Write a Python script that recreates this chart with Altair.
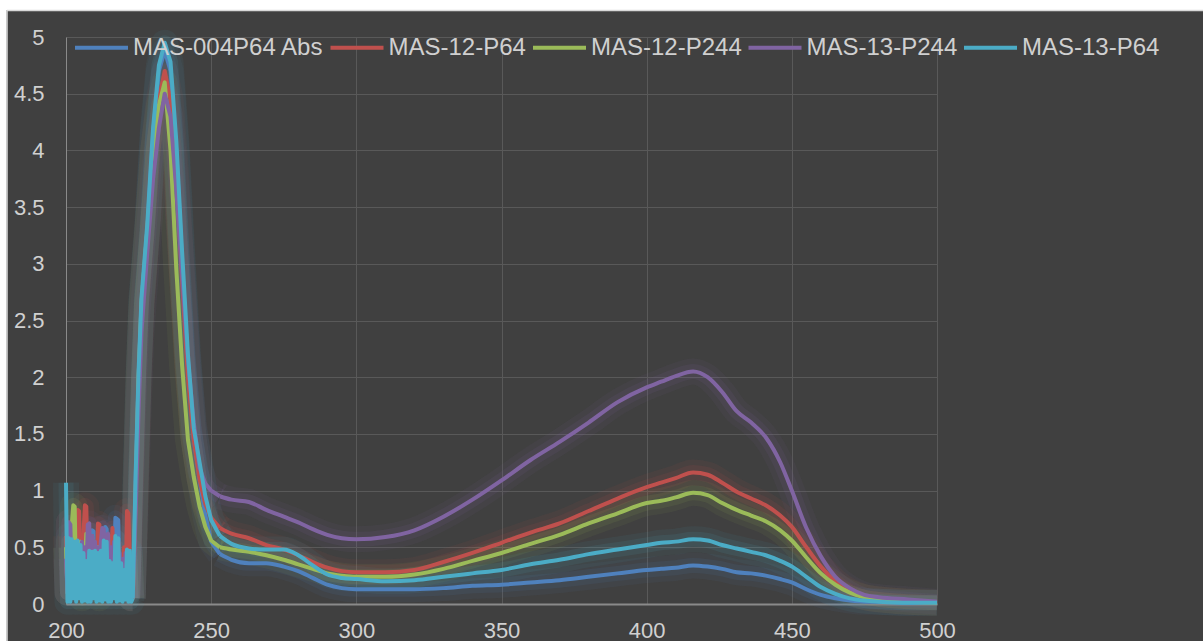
import altair as alt
import pandas as pd

# ---------------- data ----------------
series_names = ["MAS-004P64 Abs", "MAS-12-P64", "MAS-12-P244", "MAS-13-P244", "MAS-13-P64"]
series_colors = ["#4F81BD", "#C0504D", "#9BBB59", "#8064A2", "#4BACC6"]

x_ticks = [200, 250, 300, 350, 400, 450, 500]
y_ticks = [0, 0.5, 1, 1.5, 2, 2.5, 3, 3.5, 4, 4.5, 5]

# noisy (saturated) region 200 - 222.5 nm, 0.5 nm steps
noise_wl = [200.0 + 0.5 * i for i in range(46)]
noise_blue = [0.5, 0.1, 0.6, 0.1, 0.55, 0.1, 0.6, 0.15, 0.55, 0.1, 0.6, 0.1, 0.55, 0.1, 0.5, 0.1,
              0.6, 0.15, 0.65, 0.64, 0.1, 0.5, 0.1, 0.55, 0.1, 0.5, 0.1, 0.68, 0.66, 0.1, 0.5, 0.1,
              0.45, 0.1, 0.76, 0.75, 0.74, 0.2, 0.4, 0.1, 0.45, 0.1, 0.5, 0.1, 0.45, 0.05]
noise_red = [0.6, 0.1, 0.72, 0.1, 0.6, 0.15, 0.55, 0.1, 0.83, 0.82, 0.2, 0.1, 0.6, 0.87, 0.86, 0.2,
             0.55, 0.1, 0.6, 0.15, 0.55, 0.1, 0.71, 0.7, 0.2, 0.1, 0.55, 0.1, 0.5, 0.3, 0.6, 0.25,
             0.67, 0.1, 0.5, 0.1, 0.55, 0.1, 0.4, 0.15, 0.5, 0.1, 0.82, 0.8, 0.3, 0.05]
noise_green = [0.5, 0.1, 0.55, 0.1, 0.7, 0.87, 0.86, 0.1, 0.5, 0.1, 0.55, 0.05, 0.5, 0.3, 0.62, 0.1,
               0.45, 0.1, 0.5, 0.1, 0.45, 0.1, 0.5, 0.05, 0.5, 0.1, 0.45, 0.1, 0.5, 0.1, 0.45, 0.1,
               0.4, 0.1, 0.45, 0.1, 0.4, 0.25, 0.35, 0.1, 0.4, 0.1, 0.35, 0.1, 0.4, 0.05]
noise_purple = [0.4, 0.1, 0.72, 0.7, 0.2, 0.5, 0.1, 0.55, 0.1, 0.5, 0.15, 0.55, 0.1, 0.5, 0.2, 0.7,
                0.71, 0.2, 0.6, 0.1, 0.55, 0.1, 0.5, 0.15, 0.55, 0.67, 0.66, 0.2, 0.6, 0.62, 0.1, 0.5,
                0.1, 0.55, 0.1, 0.5, 0.15, 0.45, 0.1, 0.4, 0.1, 0.45, 0.1, 0.4, 0.1, 0.05]
noise_cyan = [1.07, 0.02, 0.58, 0.02, 0.57, 0.05, 0.55, 0.02, 0.56, 0.05, 0.52, 0.02, 0.45, 0.03, 0.38, 0.02,
              0.47, 0.02, 0.46, 0.05, 0.47, 0.02, 0.45, 0.03, 0.47, 0.02, 0.56, 0.04, 0.55, 0.02, 0.38, 0.02,
              0.36, 0.05, 0.6, 0.02, 0.58, 0.03, 0.36, 0.02, 0.3, 0.04, 0.48, 0.02, 0.47, 0.02]

# main band 223 - 500 nm
band_wl = [223, 224, 225, 226, 228, 230, 232, 234, 236, 238, 240, 242, 244, 246, 248, 250, 253, 257,
           263, 269, 275, 280, 285, 290, 295, 300, 310, 320, 330, 340, 350, 360, 370, 380, 390, 400,
           405, 410, 416, 421, 426, 431, 436, 441, 446, 450, 455, 460, 465, 470, 475, 480, 490, 500]
band_blue = [0.05, 1.1, 2.0, 2.65, 3.3, 4.15, 4.7, 4.88, 4.7, 4.0, 3.0, 2.1, 1.45, 1.1, 0.78, 0.55, 0.44, 0.39,
             0.36, 0.36, 0.33, 0.29, 0.23, 0.17, 0.14, 0.13, 0.13, 0.13, 0.14, 0.16, 0.17, 0.19, 0.21, 0.24, 0.27, 0.30,
             0.31, 0.32, 0.34, 0.33, 0.31, 0.28, 0.27, 0.25, 0.22, 0.19, 0.13, 0.08, 0.05, 0.03, 0.02, 0.02, 0.01, 0.01]
band_red = [0.05, 1.0, 1.95, 2.6, 3.3, 4.0, 4.45, 4.7, 4.45, 3.75, 2.85, 2.0, 1.45, 1.1, 0.88, 0.76, 0.67, 0.62,
            0.58, 0.52, 0.48, 0.43, 0.37, 0.32, 0.29, 0.28, 0.28, 0.30, 0.37, 0.45, 0.54, 0.63, 0.71, 0.82, 0.93, 1.03,
            1.07, 1.11, 1.16, 1.14, 1.07, 0.99, 0.93, 0.87, 0.78, 0.68, 0.50, 0.33, 0.20, 0.11, 0.06, 0.04, 0.02, 0.01]
band_green = [0.05, 1.0, 2.0, 2.65, 3.3, 4.0, 4.4, 4.6, 4.0, 2.95, 2.1, 1.45, 1.12, 0.86, 0.68, 0.56, 0.50, 0.48,
              0.46, 0.43, 0.39, 0.35, 0.31, 0.27, 0.25, 0.24, 0.24, 0.26, 0.31, 0.38, 0.45, 0.53, 0.61, 0.71, 0.80, 0.89,
              0.91, 0.94, 0.98, 0.96, 0.89, 0.83, 0.78, 0.73, 0.65, 0.56, 0.41, 0.27, 0.17, 0.10, 0.06, 0.04, 0.02, 0.01]
band_purple = [0.05, 0.8, 1.7, 2.4, 3.1, 3.75, 4.2, 4.5, 4.3, 3.65, 2.9, 2.15, 1.6, 1.2, 1.06, 1.0, 0.95, 0.92,
               0.90, 0.83, 0.77, 0.72, 0.66, 0.61, 0.58, 0.57, 0.59, 0.65, 0.77, 0.92, 1.09, 1.27, 1.43, 1.6, 1.78, 1.91,
               1.96, 2.01, 2.05, 2.0, 1.87, 1.70, 1.6, 1.47, 1.25, 1.0, 0.67, 0.42, 0.24, 0.14, 0.08, 0.06, 0.04, 0.02]
band_cyan = [0.05, 1.15, 2.05, 2.7, 3.35, 4.2, 4.75, 4.95, 4.78, 4.08, 3.1, 2.2, 1.55, 1.25, 0.95, 0.74, 0.6, 0.53,
             0.49, 0.48, 0.48, 0.43, 0.34, 0.26, 0.23, 0.22, 0.2, 0.21, 0.24, 0.27, 0.30, 0.35, 0.39, 0.44, 0.48, 0.52,
             0.54, 0.55, 0.57, 0.56, 0.52, 0.49, 0.46, 0.43, 0.38, 0.33, 0.24, 0.15, 0.09, 0.05, 0.03, 0.02, 0.01, 0.01]

noise_vals = [noise_blue, noise_red, noise_green, noise_purple, noise_cyan]
band_vals = [band_blue, band_red, band_green, band_purple, band_cyan]

# segments: noisy part (straight), sharp peak (straight), broad band (smooth)
PEAK_END = 253
rows = []
for name, nv, bv in zip(series_names, noise_vals, band_vals):
    seg_noise = list(zip(noise_wl, nv)) + [(band_wl[0], bv[0])]
    seg_peak = [(w, v) for w, v in zip(band_wl, bv) if w <= PEAK_END]
    seg_band = [(w, v) for w, v in zip(band_wl, bv) if w >= PEAK_END]
    for seg_name, seg in [("noise", seg_noise), ("peak", seg_peak), ("band", seg_band)]:
        for i, (w, v) in enumerate(seg):
            rows.append({"series": name, "seg": seg_name, "wl": w, "abs": v, "idx": i})
df = pd.DataFrame(rows)

# ---------------- styling ----------------
BG = "#404040"
TXT = "#d0d0d0"
FONT = "Liberation Sans"

x_enc = alt.X("wl:Q", scale=alt.Scale(domain=[200, 500], nice=False, zero=False),
              axis=alt.Axis(values=x_ticks, format="d", title=None, ticks=False,
                            labelFontSize=22, labelColor=TXT, labelFont=FONT, labelPadding=16,
                            labelFlush=False, labelOverlap=False,
                            domainColor="#8a8a8a", domainWidth=2,
                            gridColor="#595959", gridWidth=1))
y_enc = alt.Y("abs:Q", scale=alt.Scale(domain=[0, 5], nice=False),
              axis=alt.Axis(values=y_ticks, format="~g", title=None, ticks=False,
                            labelFontSize=22, labelColor=TXT, labelFont=FONT, labelPadding=22,
                            labelOverlap=False,
                            domainColor="#8a8a8a", domainWidth=1,
                            gridColor="#595959", gridWidth=1))
color_scale = alt.Scale(domain=series_names, range=series_colors)

interp = {"noise": "linear", "peak": "linear", "band": "monotone"}
layers = []

# glow layers (constant colour, no legend)
for sw, op in [(26, 0.07), (15, 0.1)]:
    for name, col in zip(series_names, series_colors):
        for seg in ["noise", "peak", "band"]:
            layers.append(
                alt.Chart(df).transform_filter(
                    (alt.datum.series == name) & (alt.datum.seg == seg))
                .mark_line(strokeWidth=sw, opacity=op, color=col, interpolate=interp[seg],
                           strokeCap="butt", strokeJoin="round")
                .encode(x=x_enc, y=y_enc, order="idx:Q")
            )

# main lines
legend = alt.Legend(title=None, orient="none", legendX=7, legendY=-18, direction="horizontal",
                    columns=5, symbolType="stroke", symbolSize=2809, symbolStrokeWidth=4,
                    labelFontSize=24, labelColor=TXT, labelFont=FONT, labelLimit=400,
                    columnPadding=-1.5, labelOffset=3, padding=0)
for name in series_names:
    for seg in ["noise", "peak", "band"]:
        layers.append(
            alt.Chart(df).transform_filter(
                (alt.datum.series == name) & (alt.datum.seg == seg))
            .mark_line(strokeWidth=4, interpolate=interp[seg], strokeCap="butt", strokeJoin="round")
            .encode(x=x_enc, y=y_enc, order="idx:Q",
                    color=alt.Color("series:N", scale=color_scale, legend=legend))
        )

# page margins (white strips) and the chart-area border
one = pd.DataFrame({"k": [0]})
layers.append(alt.Chart(one).mark_rect(color="white").encode(
    x=alt.value(-66), x2=alt.value(-59.5), y=alt.value(-37), y2=alt.value(604)))
layers.append(alt.Chart(one).mark_rect(color="white").encode(
    x=alt.value(-66), x2=alt.value(1137), y=alt.value(-37), y2=alt.value(-27)))
layers.append(alt.Chart(one).mark_rule(color="#d9d9d9", strokeWidth=1.5).encode(
    x=alt.value(-59), y=alt.value(-27), y2=alt.value(604)))
layers.append(alt.Chart(one).mark_rule(color="#d9d9d9", strokeWidth=1.5).encode(
    x=alt.value(-59), x2=alt.value(1137), y=alt.value(-26.5)))

chart = alt.layer(*layers).properties(
    width=871, height=567,
    background=BG,
    padding={"left": 66, "top": 37, "right": 266, "bottom": 37},
    autosize=alt.AutoSizeParams(type="none"),
).configure_view(stroke="transparent")

chart.save("out.html", embed_options={"renderer": "svg", "actions": False})
